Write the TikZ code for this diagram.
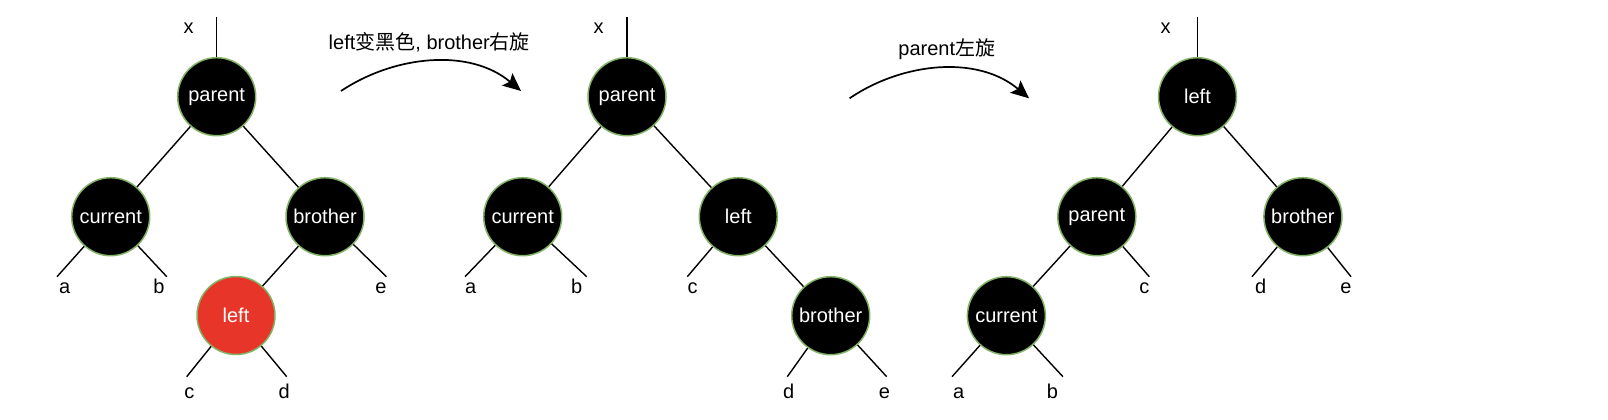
\documentclass[tikz,border=0pt]{standalone}
\usepackage{fontspec}
\setmainfont{Liberation Sans}
\newfontfamily\cjk{Noto Sans CJK SC}
\usetikzlibrary{arrows.meta}
\definecolor{rbred}{HTML}{E8352A}
\definecolor{rbborder}{HTML}{82B366}
\tikzset{
  rbnode/.style={circle, minimum size=78pt, inner sep=0pt, draw=rbborder, line width=1.5pt, text=white, font=\fontsize{20}{24}\selectfont},
  blk/.style={rbnode, fill=black},
  redn/.style={rbnode, fill=rbred},
  treeline/.style={draw=black, line width=1.4pt},
  lbl/.style={anchor=base, inner sep=0pt, font=\fontsize{20}{24}\selectfont},
  captxt/.style={anchor=base, inner sep=0pt, font=\fontsize{20}{24}\selectfont},
  turn/.style={draw=black, line width=1.7pt, -{Stealth[length=18pt, width=16pt, inset=3.5pt]}}
}
\begin{document}
\begin{tikzpicture}[x=1pt, y=-1pt]
\useasboundingbox (0,0) rectangle (1608,420);
% ---------- tree 1 ----------
\node[blk] (p1) at (216.7,96.7) {parent};
\node[blk] (c1) at (110.7,216.7) {current};
\node[blk] (b1) at (325,216.7) {brother};
\node[redn] (l1) at (236,315.5) {left};
\coordinate (t1) at (216.7,17);
\coordinate (a1e) at (57,276.7);
\coordinate (b1e) at (166.8,276.7);
\coordinate (e1e) at (386.4,276.7);
\coordinate (c1e) at (186.7,376.7);
\coordinate (d1e) at (286.7,376.7);
\node[lbl] (x1) at (188.6,33.5) {x};
\node[lbl] (la1) at (64.6,293) {a};
\node[lbl] (lb1) at (159,293) {b};
\node[lbl] (le1) at (381,293) {e};
\node[lbl] (lc1) at (189.3,398.5) {c};
\node[lbl] (ld1) at (284.3,398.5) {d};
\draw[treeline] (t1) -- (p1);
\draw[treeline] (p1) -- (c1);
\draw[treeline] (p1) -- (b1);
\draw[treeline] (b1) -- (l1);
\draw[treeline] (c1) -- (a1e);
\draw[treeline] (c1) -- (b1e);
\draw[treeline] (b1) -- (e1e);
\draw[treeline] (l1) -- (c1e);
\draw[treeline] (l1) -- (d1e);
% ---------- arrow 1 ----------
\node[captxt] (cap1) at (429.3,49.3) {left{\cjk 变黑色}, brother{\cjk 右旋}};
\coordinate (s1) at (341,91);
\coordinate (f1) at (521,91);
\draw[turn] (s1) .. controls (395,55) and (470,48) .. (f1);
% ---------- tree 2 ----------
\node[blk] (p2) at (627,96.7) {parent};
\node[blk] (c2) at (522.7,216.7) {current};
\node[blk] (l2) at (738.3,216.7) {left};
\node[blk] (b2) at (830.7,315.7) {brother};
\coordinate (t2) at (627,17);
\coordinate (a2e) at (465,276.7);
\coordinate (b2e) at (586.7,276.7);
\coordinate (c2e) at (687.3,276.7);
\coordinate (d2e) at (787.3,376.7);
\coordinate (e2e) at (886.7,376.7);
\node[lbl] (x2) at (598.7,33.5) {x};
\node[lbl] (la2) at (470.7,293) {a};
\node[lbl] (lb2) at (576.7,293) {b};
\node[lbl] (lc2) at (692.7,293) {c};
\node[lbl] (ld2) at (788.7,398.5) {d};
\node[lbl] (le2) at (884.3,398.5) {e};
\draw[treeline] (t2) -- (p2);
\draw[treeline] (p2) -- (c2);
\draw[treeline] (p2) -- (l2);
\draw[treeline] (l2) -- (b2);
\draw[treeline] (c2) -- (a2e);
\draw[treeline] (c2) -- (b2e);
\draw[treeline] (l2) -- (c2e);
\draw[treeline] (b2) -- (d2e);
\draw[treeline] (b2) -- (e2e);
% ---------- arrow 2 ----------
\node[captxt] (cap2) at (946.8,56) {parent{\cjk 左旋}};
\coordinate (s2) at (849.6,98.3);
\coordinate (f2) at (1029,98.3);
\draw[turn] (s2) .. controls (903,62) and (978,55) .. (f2);
% ---------- tree 3 ----------
\node[blk] (l3) at (1197.5,96.7) {left};
\node[blk] (p3) at (1096.8,216.7) {parent};
\node[blk] (b3) at (1302.9,216.7) {brother};
\node[blk] (c3) at (1006.4,315.7) {current};
\coordinate (t3) at (1197.5,17);
\coordinate (c3e) at (1149.3,276.7);
\coordinate (d3e) at (1252,276.7);
\coordinate (e3e) at (1351,276.7);
\coordinate (a3e) at (952,376.7);
\coordinate (b3e) at (1062.9,376.7);
\node[lbl] (x3) at (1165.7,33.5) {x};
\node[lbl] (lc3) at (1144.3,293) {c};
\node[lbl] (ld3) at (1260.7,293) {d};
\node[lbl] (le3) at (1346,293) {e};
\node[lbl] (la3) at (958.6,398.5) {a};
\node[lbl] (lb3) at (1052.5,398.5) {b};
\draw[treeline] (t3) -- (l3);
\draw[treeline] (l3) -- (p3);
\draw[treeline] (l3) -- (b3);
\draw[treeline] (p3) -- (c3);
\draw[treeline] (p3) -- (c3e);
\draw[treeline] (b3) -- (d3e);
\draw[treeline] (b3) -- (e3e);
\draw[treeline] (c3) -- (a3e);
\draw[treeline] (c3) -- (b3e);
\end{tikzpicture}
\end{document}
